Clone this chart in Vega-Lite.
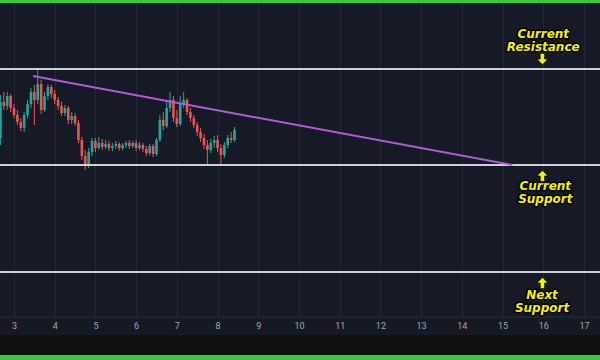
{
  "$schema": "https://vega.github.io/schema/vega-lite/v6.json",
  "width": 600,
  "height": 360,
  "autosize": {"type": "none"},
  "padding": 0,
  "background": "#111111",
  "config": {"view": {"fill": "#161a26", "stroke": null}},
  "datasets": {
    "candles": [
      {"t": 2.667, "open": 222, "high": 265, "low": 215, "close": 258},
      {"t": 2.75, "open": 258, "high": 268, "low": 250, "close": 254},
      {"t": 2.833, "open": 254, "high": 268, "low": 250, "close": 264},
      {"t": 2.917, "open": 264, "high": 266, "low": 248, "close": 252},
      {"t": 3.0, "open": 252, "high": 256, "low": 242, "close": 245},
      {"t": 3.083, "open": 245, "high": 250, "low": 235, "close": 238},
      {"t": 3.167, "open": 238, "high": 242, "low": 229, "close": 232},
      {"t": 3.25, "open": 232, "high": 248, "low": 228, "close": 245},
      {"t": 3.333, "open": 245, "high": 260, "low": 242, "close": 256},
      {"t": 3.417, "open": 256, "high": 272, "low": 252, "close": 268},
      {"t": 3.5, "open": 268, "high": 275, "low": 235, "close": 260},
      {"t": 3.583, "open": 260, "high": 292, "low": 256, "close": 276},
      {"t": 3.667, "open": 276, "high": 280, "low": 246, "close": 250},
      {"t": 3.75, "open": 250, "high": 268, "low": 248, "close": 264},
      {"t": 3.833, "open": 264, "high": 276, "low": 260, "close": 273},
      {"t": 3.917, "open": 273, "high": 275, "low": 262, "close": 266},
      {"t": 4.0, "open": 266, "high": 270, "low": 256, "close": 260},
      {"t": 4.083, "open": 260, "high": 263, "low": 250, "close": 254},
      {"t": 4.167, "open": 254, "high": 258, "low": 244, "close": 247},
      {"t": 4.25, "open": 247, "high": 255, "low": 244, "close": 252},
      {"t": 4.333, "open": 252, "high": 254, "low": 236, "close": 240},
      {"t": 4.417, "open": 240, "high": 248, "low": 236, "close": 244},
      {"t": 4.5, "open": 244, "high": 247, "low": 234, "close": 237},
      {"t": 4.583, "open": 237, "high": 240, "low": 217, "close": 220},
      {"t": 4.667, "open": 220, "high": 223, "low": 200, "close": 204},
      {"t": 4.75, "open": 204, "high": 210, "low": 190, "close": 196},
      {"t": 4.833, "open": 196, "high": 212, "low": 192, "close": 208},
      {"t": 4.917, "open": 208, "high": 222, "low": 204, "close": 219},
      {"t": 5.0, "open": 219, "high": 222, "low": 208, "close": 212},
      {"t": 5.083, "open": 212, "high": 223, "low": 210, "close": 217},
      {"t": 5.167, "open": 217, "high": 221, "low": 210, "close": 213},
      {"t": 5.25, "open": 213, "high": 220, "low": 211, "close": 216},
      {"t": 5.333, "open": 216, "high": 219, "low": 209, "close": 212},
      {"t": 5.417, "open": 212, "high": 217, "low": 209, "close": 214},
      {"t": 5.5, "open": 214, "high": 219, "low": 211, "close": 216},
      {"t": 5.583, "open": 216, "high": 218, "low": 209, "close": 212},
      {"t": 5.667, "open": 212, "high": 217, "low": 210, "close": 215},
      {"t": 5.75, "open": 215, "high": 219, "low": 212, "close": 217},
      {"t": 5.833, "open": 217, "high": 220, "low": 211, "close": 214},
      {"t": 5.917, "open": 214, "high": 219, "low": 212, "close": 217},
      {"t": 6.0, "open": 217, "high": 220, "low": 209, "close": 212},
      {"t": 6.083, "open": 212, "high": 218, "low": 210, "close": 215},
      {"t": 6.167, "open": 215, "high": 217, "low": 208, "close": 211},
      {"t": 6.25, "open": 211, "high": 214, "low": 204, "close": 207},
      {"t": 6.333, "open": 207, "high": 216, "low": 205, "close": 214},
      {"t": 6.417, "open": 214, "high": 216, "low": 203, "close": 206},
      {"t": 6.5, "open": 206, "high": 222, "low": 204, "close": 220},
      {"t": 6.583, "open": 220, "high": 245, "low": 218, "close": 240},
      {"t": 6.667, "open": 240, "high": 248, "low": 230, "close": 234},
      {"t": 6.75, "open": 234, "high": 260, "low": 232, "close": 252},
      {"t": 6.833, "open": 252, "high": 268, "low": 248, "close": 260},
      {"t": 6.917, "open": 260, "high": 264, "low": 238, "close": 242},
      {"t": 7.0, "open": 242, "high": 250, "low": 233, "close": 236},
      {"t": 7.083, "open": 236, "high": 264, "low": 234, "close": 256},
      {"t": 7.167, "open": 256, "high": 268, "low": 252, "close": 260},
      {"t": 7.25, "open": 260, "high": 262, "low": 245, "close": 248},
      {"t": 7.333, "open": 248, "high": 252, "low": 238, "close": 242},
      {"t": 7.417, "open": 242, "high": 245, "low": 232, "close": 235},
      {"t": 7.5, "open": 235, "high": 238, "low": 224, "close": 228},
      {"t": 7.583, "open": 228, "high": 232, "low": 218, "close": 222},
      {"t": 7.667, "open": 222, "high": 226, "low": 211, "close": 215},
      {"t": 7.75, "open": 215, "high": 220, "low": 195, "close": 210},
      {"t": 7.833, "open": 210, "high": 221, "low": 207, "close": 217},
      {"t": 7.917, "open": 217, "high": 224, "low": 212, "close": 220},
      {"t": 8.0, "open": 220, "high": 225, "low": 208, "close": 212},
      {"t": 8.083, "open": 212, "high": 216, "low": 194, "close": 205},
      {"t": 8.167, "open": 205, "high": 218, "low": 202, "close": 215},
      {"t": 8.25, "open": 215, "high": 225, "low": 212, "close": 222},
      {"t": 8.333, "open": 222, "high": 228, "low": 217, "close": 220},
      {"t": 8.417, "open": 220, "high": 233, "low": 218, "close": 230}
    ],
    "levels": [
      {"level": "Current Resistance", "price": 291},
      {"level": "Current Support", "price": 195},
      {"level": "Next Support", "price": 88}
    ],
    "trend": [
      {"t": 3.467, "price": 284},
      {"t": 15.24, "price": 195}
    ],
    "notes": [
      {"t": 16.0, "price": 326.5, "text": "Current\nResistance"},
      {"t": 16.05, "price": 174.5, "text": "Current\nSupport"},
      {"t": 15.97, "price": 65.5, "text": "Next\nSupport"}
    ],
    "arrows": [
      {"t": 15.98, "price": 301, "dir": "down"},
      {"t": 15.98, "price": 184, "dir": "up"},
      {"t": 15.98, "price": 77, "dir": "up"}
    ]
  },
  "layer": [
    {
      "data": {"name": "candles"},
      "mark": {"type": "rule", "strokeWidth": 1},
      "encoding": {
        "x": {
          "field": "t", "type": "quantitative",
          "scale": {"domain": [2.656, 17.394], "nice": false, "zero": false, "padding": 0},
          "axis": {"orient": "bottom", "grid": true, "gridColor": "#232835", "gridWidth": 1, "values": [3,4,5,6,7,8,9,10,11,12,13,14,15,16,17], "labels": false, "ticks": false, "domain": false, "title": null, "zindex": 0}
        },
        "y": {
          "field": "low", "type": "quantitative",
          "scale": {"domain": [0, 360], "nice": false, "zero": false, "padding": 0},
          "axis": {"grid": true, "gridColor": "#232835", "values": [52], "labels": false, "ticks": false, "domain": false, "title": null}
        },
        "y2": {"field": "high"},
        "color": {"condition": {"test": "datum.close >= datum.open", "value": "#26a69a"}, "value": "#ef5350"}
      }
    },
    {
      "data": {"name": "candles"},
      "mark": {"type": "bar", "size": 2.6},
      "encoding": {
        "x": {"field": "t", "type": "quantitative", "axis": null},
        "y": {"field": "open", "type": "quantitative", "axis": null},
        "y2": {"field": "close"},
        "color": {"condition": {"test": "datum.close >= datum.open", "value": "#26a69a"}, "value": "#ef5350"}
      }
    },
    {
      "data": {"name": "levels"},
      "mark": {"type": "rule", "color": "#cfd1d8", "strokeWidth": 2},
      "encoding": {
        "y": {"field": "price", "type": "quantitative", "axis": null}
      }
    },
    {
      "data": {"name": "trend"},
      "mark": {"type": "line", "color": "#b35bd1", "strokeWidth": 2},
      "encoding": {
        "x": {"field": "t", "type": "quantitative", "axis": null},
        "y": {"field": "price", "type": "quantitative", "axis": null}
      }
    },
    {
      "data": {"values": [{}]},
      "mark": {"type": "rect", "fill": "#151924"},
      "encoding": {
        "y": {"datum": 25, "type": "quantitative", "axis": null},
        "y2": {"datum": 43}
      }
    },
    {
      "data": {"values": [{}]},
      "mark": {"type": "rule", "color": "#2a2e39", "strokeWidth": 1},
      "encoding": {
        "y": {"datum": 43, "type": "quantitative", "axis": null}
      }
    },
    {
      "data": {"values": [{}]},
      "mark": {"type": "rect", "fill": "#111111"},
      "encoding": {
        "y": {"datum": 5, "type": "quantitative", "axis": null},
        "y2": {"datum": 25}
      }
    },
    {
      "data": {"values": [{}]},
      "mark": {"type": "rect", "fill": "#3cc83c"},
      "encoding": {
        "y": {"datum": 0, "type": "quantitative", "axis": null},
        "y2": {"datum": 5}
      }
    },
    {
      "data": {"values": [{}]},
      "mark": {"type": "rect", "fill": "#3cc83c"},
      "encoding": {
        "y": {"datum": 357, "type": "quantitative", "axis": null},
        "y2": {"datum": 360}
      }
    },
    {
      "data": {"name": "arrows"},
      "mark": {"type": "point", "filled": true, "fill": "#f5f200", "stroke": "#000000", "strokeWidth": 0.8, "size": 130, "opacity": 1},
      "encoding": {
        "x": {"field": "t", "type": "quantitative", "axis": null},
        "y": {"field": "price", "type": "quantitative", "axis": null},
        "shape": {
          "field": "dir", "type": "nominal", "legend": null,
          "scale": {"domain": ["up", "down"], "range": ["M0,-1L1,0L0.4,0L0.4,1L-0.4,1L-0.4,0L-1,0Z", "M0,1L1,0L0.4,0L0.4,-1L-0.4,-1L-0.4,0L-1,0Z"]}
        }
      }
    },
    {
      "data": {"name": "notes"},
      "mark": {"type": "text", "font": "DejaVu Sans", "fontSize": 12, "fontWeight": "bold", "fontStyle": "italic", "lineBreak": "\n", "lineHeight": 13, "baseline": "middle", "align": "center", "fill": "#000000", "stroke": "#000000", "strokeWidth": 3, "strokeJoin": "round"},
      "encoding": {
        "x": {"field": "t", "type": "quantitative", "axis": null},
        "y": {"field": "price", "type": "quantitative", "axis": null},
        "text": {"field": "text"}
      }
    },
    {
      "data": {"name": "notes"},
      "mark": {"type": "text", "font": "DejaVu Sans", "fontSize": 12, "fontWeight": "bold", "fontStyle": "italic", "lineBreak": "\n", "lineHeight": 13, "baseline": "middle", "align": "center", "fill": "#f5f200"},
      "encoding": {
        "x": {
          "field": "t", "type": "quantitative",
          "axis": {"orient": "bottom", "offset": -39, "grid": false, "values": [3,4,5,6,7,8,9,10,11,12,13,14,15,16,17], "ticks": false, "domain": false, "labelPadding": 0, "labelBaseline": "top", "labelFont": "Roboto", "labelFontSize": 9, "labelColor": "#a3a6af", "labelFlush": false, "labelOverlap": false, "title": null, "zindex": 1}
        },
        "y": {"field": "price", "type": "quantitative", "axis": null},
        "text": {"field": "text"}
      }
    }
  ],
  "resolve": {"axis": {"x": "independent"}}
}
